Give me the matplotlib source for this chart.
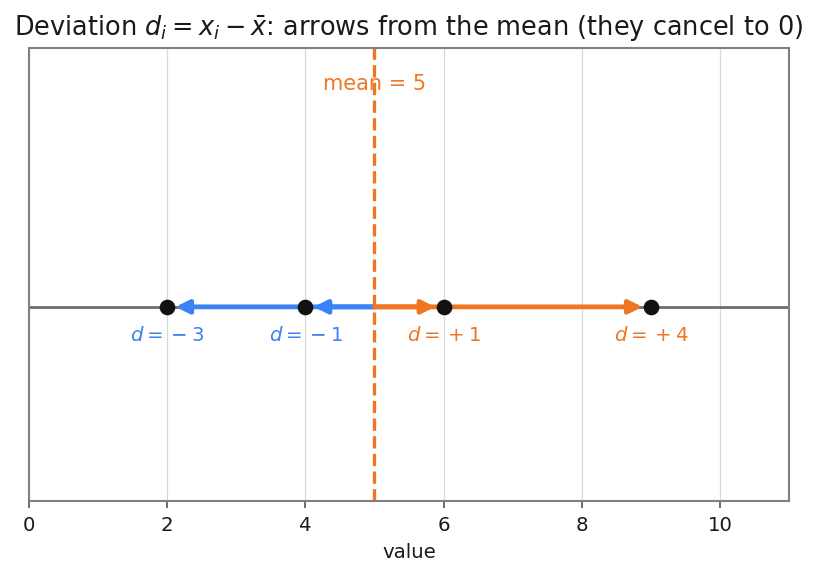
import numpy as np
import matplotlib
matplotlib.use("Agg")
from matplotlib import pyplot as plt

values = [2, 4, 6, 9]
mean_value = 5
deviations = [-3, -1, 1, 4]
dev_labels = [r"$d = {}-3$", r"$d = {}-1$", r"$d = {}+1$", r"$d = {}+4$"]

blue = '#3b82f6'
orange = '#ef7622'

fig, ax = plt.subplots(figsize=(818 / 150, 576 / 150), dpi=150)

ax.axhline(0, color='#6b6b6b', lw=1.3, zorder=1)
ax.axvline(mean_value, color=orange, lw=1.6, ls='--', zorder=2)

for v, d, lab in zip(values, deviations, dev_labels):
    c = blue if d < 0 else orange
    ax.annotate('', xy=(v, 0), xytext=(mean_value, 0),
                arrowprops=dict(arrowstyle='-|>', color=c, lw=2.3,
                                mutation_scale=13, shrinkA=0, shrinkB=4),
                zorder=3)
    ax.text(v, -0.09, lab, color=c, fontsize=9.5, ha='center', va='center')

ax.plot(values, np.zeros(len(values)), 'o', color='#111111', ms=6.5, zorder=5)

ax.text(mean_value, 0.69, 'mean = 5', color=orange, fontsize=10,
        ha='center', va='center')

ax.set_xlim(0, 11)
ax.set_ylim(-0.6, 0.8)
ax.set_yticks([])
ax.set_xticks([0, 2, 4, 6, 8, 10])
ax.grid(axis='x', color='#d9d9d9', lw=0.6)
ax.set_axisbelow(True)
for s in ax.spines.values():
    s.set_color('#808080')
    s.set_linewidth(1.0)
ax.tick_params(axis='x', colors='#555555', labelcolor='#1a1a1a',
               labelsize=9.5, length=3.5, width=0.8)
ax.set_xlabel('value', fontsize=9.5, color='#1a1a1a')
ax.set_title(r'Deviation $d_i = x_i - \bar{x}$: arrows from the mean (they cancel to 0)',
             fontsize=12.3, color='#1a1a1a')

fig.subplots_adjust(left=29 / 818, right=789 / 818, top=1 - 48 / 576, bottom=1 - 501 / 576)
fig.savefig('out.png', dpi=150)
